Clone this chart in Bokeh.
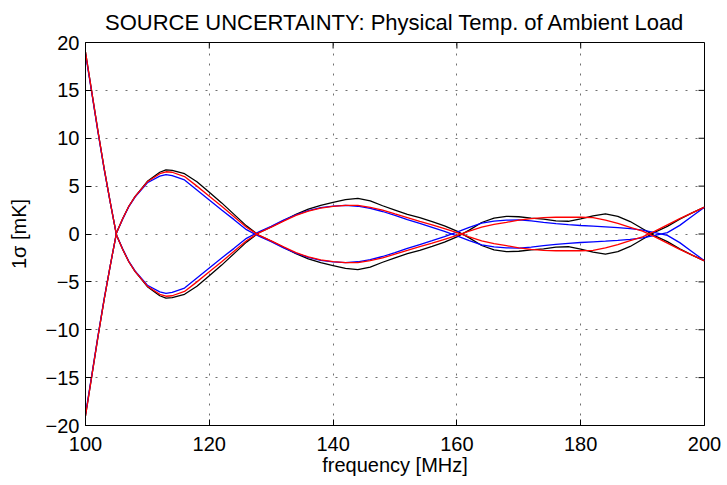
from bokeh.plotting import figure
from bokeh.models import Range1d, FixedTicker
from bokeh.embed import file_html
from bokeh.resources import INLINE

# ---- data ----
freq = [100, 101, 102, 103, 104, 105, 106, 107, 108, 110, 112, 113, 114, 116, 118, 120,
        122, 124, 126, 128, 130, 132, 134, 136, 138, 140, 142, 144, 146, 148, 150, 152,
        154, 156, 158, 160, 162, 164, 166, 168, 170, 172, 174, 176, 178, 180, 182, 184,
        186, 188, 190, 192, 194, 196, 198, 200]

black_mode = [19.0, 14.9, 10.8, 6.9, 3.3, -0.1, -1.6, -2.9, -3.9, -5.5, -6.45, -6.7, -6.65, -6.3, -5.45, -4.35,
              -3.25, -2.05, -0.85, 0.13, 0.75, 1.4, 2.05, 2.6, 3.0, 3.3, 3.6, 3.72, 3.45, 2.95, 2.5, 2.05,
              1.7, 1.3, 0.85, 0.3, -0.4, -1.2, -1.65, -1.85, -1.8, -1.65, -1.55, -1.38, -1.33, -1.58, -1.9, -2.1,
              -1.85, -1.3, -0.55, 0.2, 0.8, 1.55, 2.2, 2.8]

red_mode = [19.0, 14.9, 10.8, 6.9, 3.3, -0.1, -1.6, -2.9, -3.9, -5.45, -6.3, -6.5, -6.45, -6.0, -5.0, -3.95,
            -2.9, -1.8, -0.7, 0.12, 0.72, 1.35, 1.95, 2.4, 2.7, 2.88, 3.0, 2.98, 2.78, 2.5, 2.1, 1.72,
            1.33, 0.95, 0.55, 0.15, -0.3, -0.72, -1.0, -1.22, -1.45, -1.6, -1.7, -1.75, -1.75, -1.75, -1.7, -1.45,
            -1.1, -0.7, -0.3, 0.3, 0.95, 1.6, 2.2, 2.8]

blue_mode = [18.8, 14.8, 10.7, 6.8, 3.3, -0.1, -1.55, -2.85, -3.85, -5.35, -6.05, -6.2, -6.1, -5.65, -4.6, -3.55,
             -2.5, -1.5, -0.45, 0.22, 0.8, 1.45, 2.0, 2.45, 2.75, 2.92, 2.98, 2.9, 2.68, 2.35, 1.95, 1.5,
             1.1, 0.7, 0.28, -0.2, -0.7, -1.13, -1.35, -1.45, -1.48, -1.38, -1.22, -1.08, -0.97, -0.89, -0.82, -0.75,
             -0.67, -0.56, -0.4, -0.15, 0.15, 0.9, 1.85, 2.8]

x_ticks = [100, 120, 140, 160, 180, 200]
y_ticks = [-20, -15, -10, -5, 0, 5, 10, 15, 20]
y_tick_labels = ["\u221220", "\u221215", "\u221210", "\u22125", "0", "5", "10", "15", "20"]

title_text = "SOURCE UNCERTAINTY: Physical Temp. of Ambient Load"
x_label = "frequency [MHz]"
y_label = "1\u03c3 [mK]"

FONT = "Liberation Sans"
X_MIN, X_MAX = x_ticks[0], x_ticks[-1]
Y_MIN, Y_MAX = y_ticks[0], y_ticks[-1]

p = figure(width=727, height=485, output_backend="svg", toolbar_location=None,
           x_range=Range1d(X_MIN, X_MAX), y_range=Range1d(Y_MIN, Y_MAX),
           min_border_left=85, min_border_right=23, min_border_top=42, min_border_bottom=60)
p.background_fill_color = "white"
p.border_fill_color = "white"
p.outline_line_color = "black"
p.outline_line_width = 1

p.title.text = title_text
p.title.align = "center"
p.title.offset = 6
p.title.text_font = FONT
p.title.text_font_size = "22px"
p.title.text_font_style = "normal"
p.title.text_color = "black"
p.title.standoff = 15

xt = FixedTicker(ticks=x_ticks)
yt = FixedTicker(ticks=y_ticks)

xa = p.xaxis[0]
ya = p.yaxis[0]
for ax, tk in ((xa, xt), (ya, yt)):
    ax.ticker = tk
    ax.major_tick_in = 6
    ax.major_tick_out = 0
    ax.minor_tick_line_color = None
    ax.axis_line_color = "black"
    ax.major_tick_line_color = "black"
    ax.major_label_text_font = FONT
    ax.major_label_text_color = "black"
    ax.major_label_text_font_size = "20px"
    ax.axis_label_text_font = FONT
    ax.axis_label_text_font_size = "20px"
    ax.axis_label_text_font_style = "normal"
    ax.axis_label_text_color = "black"
xa.major_label_standoff = 11
ya.major_label_standoff = 6
ya.major_label_overrides = {v: s for v, s in zip(y_ticks, y_tick_labels)}
xa.axis_label = x_label
ya.axis_label = y_label
xa.axis_label_standoff = 0
ya.axis_label_standoff = 13

# inward tick marks on the top and right edges of the box
p.ray(x=x_ticks, y=[Y_MAX] * len(x_ticks), length=6, length_units="screen",
      angle=-90, angle_units="deg", line_color="black", line_width=1)
p.ray(x=[X_MAX] * len(y_ticks), y=y_ticks, length=6, length_units="screen",
      angle=180, angle_units="deg", line_color="black", line_width=1)

p.xgrid.ticker = xt
p.ygrid.ticker = yt
for g in (p.xgrid, p.ygrid):
    g.grid_line_color = "#333333"
    g.grid_line_alpha = 0.7
    g.grid_line_dash = "2 8"
    g.grid_line_width = 1

for mode, color in ((black_mode, "black"), (blue_mode, "blue"), (red_mode, "red")):
    p.line(freq, mode, line_color=color, line_width=1.3)
    p.line(freq, [-v for v in mode], line_color=color, line_width=1.3)

open("out.html", "w").write(file_html(p, INLINE))
